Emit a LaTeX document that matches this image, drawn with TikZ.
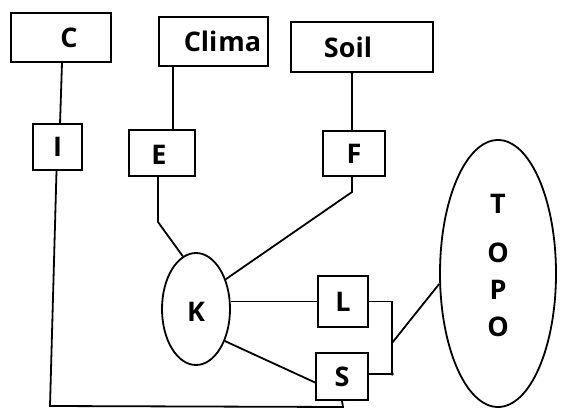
\documentclass[tikz,border=0pt]{standalone}
\usepackage{fontspec}
\setmainfont{Open Sans}
\usetikzlibrary{shapes.geometric}
\begin{document}
\begin{tikzpicture}[x=1pt,y=-1pt,
  line width=1.8pt,
  lbl/.style={font=\bfseries\fontsize{27}{27}\selectfont},
  box/.style={draw,rectangle,inner sep=0pt},
  oval/.style={draw,ellipse,inner sep=0pt},
  jdot/.style={circle,fill,inner sep=0pt,minimum size=3.5pt}]
\useasboundingbox (0,0) rectangle (561,417);

% top row of factor boxes
\node[box,minimum width=100,minimum height=49,
  label={[lbl,xshift=8pt]center:C}] (C) at (61,37.5) {};
\node[box,minimum width=109,minimum height=49,
  label={[lbl,xshift=9pt]center:Cli\kern1ptma}] (Clima) at (213.5,41.5) {};
\node[box,minimum width=142,minimum height=50,
  label={[lbl,xshift=-14pt]center:Soil}] (Soil) at (362,47) {};

% second row
\node[box,minimum width=49,minimum height=46,label={[lbl]center:I}] (I) at (57.5,147) {};
\node[box,minimum width=66,minimum height=46,label={[lbl,xshift=-3pt,yshift=-2pt]center:E}] (E) at (162,153) {};
\node[box,minimum width=62,minimum height=45,label={[lbl]center:F}] (F) at (354,153.5) {};

% K, L, S and TOPO
\node[oval,minimum width=68,minimum height=112,label={[lbl,yshift=-3pt]center:K}] (K) at (196,309) {};
\node[box,minimum width=50,minimum height=51,label={[lbl]center:L}] (L) at (343,301.5) {};
\node[box,minimum width=52,minimum height=47,label={[lbl]center:S}] (S) at (342,376.5) {};
\node[oval,minimum width=116,minimum height=267] (TOPO) at (498,273.5) {};
\node[lbl] (t1) at (498,204) {T};
\node[lbl] (t2) at (498,253) {O};
\node[lbl] (t3) at (498,290) {P};
\node[lbl] (t4) at (498,327) {O};

% connectors
\coordinate (ci) at (60,124);
\draw (C.south) ++(1,0) -- (ci);
\draw ([xshift=11pt]E.north) -- ([xshift=11pt]E.north |- Clima.south);
\draw ([xshift=-2pt]F.north) -- ([xshift=-2pt]F.north |- Soil.south);
\node[jdot] (sd) at ([xshift=-10pt]Soil.south) {};

\coordinate (bl) at (50,406);
\coordinate (br) at (343,407);
\draw ([xshift=-1pt]I.south) -- (bl) -- (br) -- (S.south);

\coordinate (e1) at (158,222);
\draw ([xshift=-4pt]E.south) -- (e1) -- (K.104);

\coordinate (f1) at (352,192);
\draw ([xshift=-2pt]F.south) -- (f1) -- (K.45);

\draw (L.west) -- (L.west -| K.east);
\draw (K.-48) -- ([yshift=-6pt]S.west);

\coordinate (lr) at (392,301.5);
\coordinate (sr) at (392,374);
\coordinate (br2) at (392,343);
\draw (L.east) -- (lr) -- (sr) -- ([yshift=2.5pt]S.east);
\node[jdot] (sj) at (sr) {};
\draw (br2) -- (TOPO.190);
\end{tikzpicture}
\end{document}
